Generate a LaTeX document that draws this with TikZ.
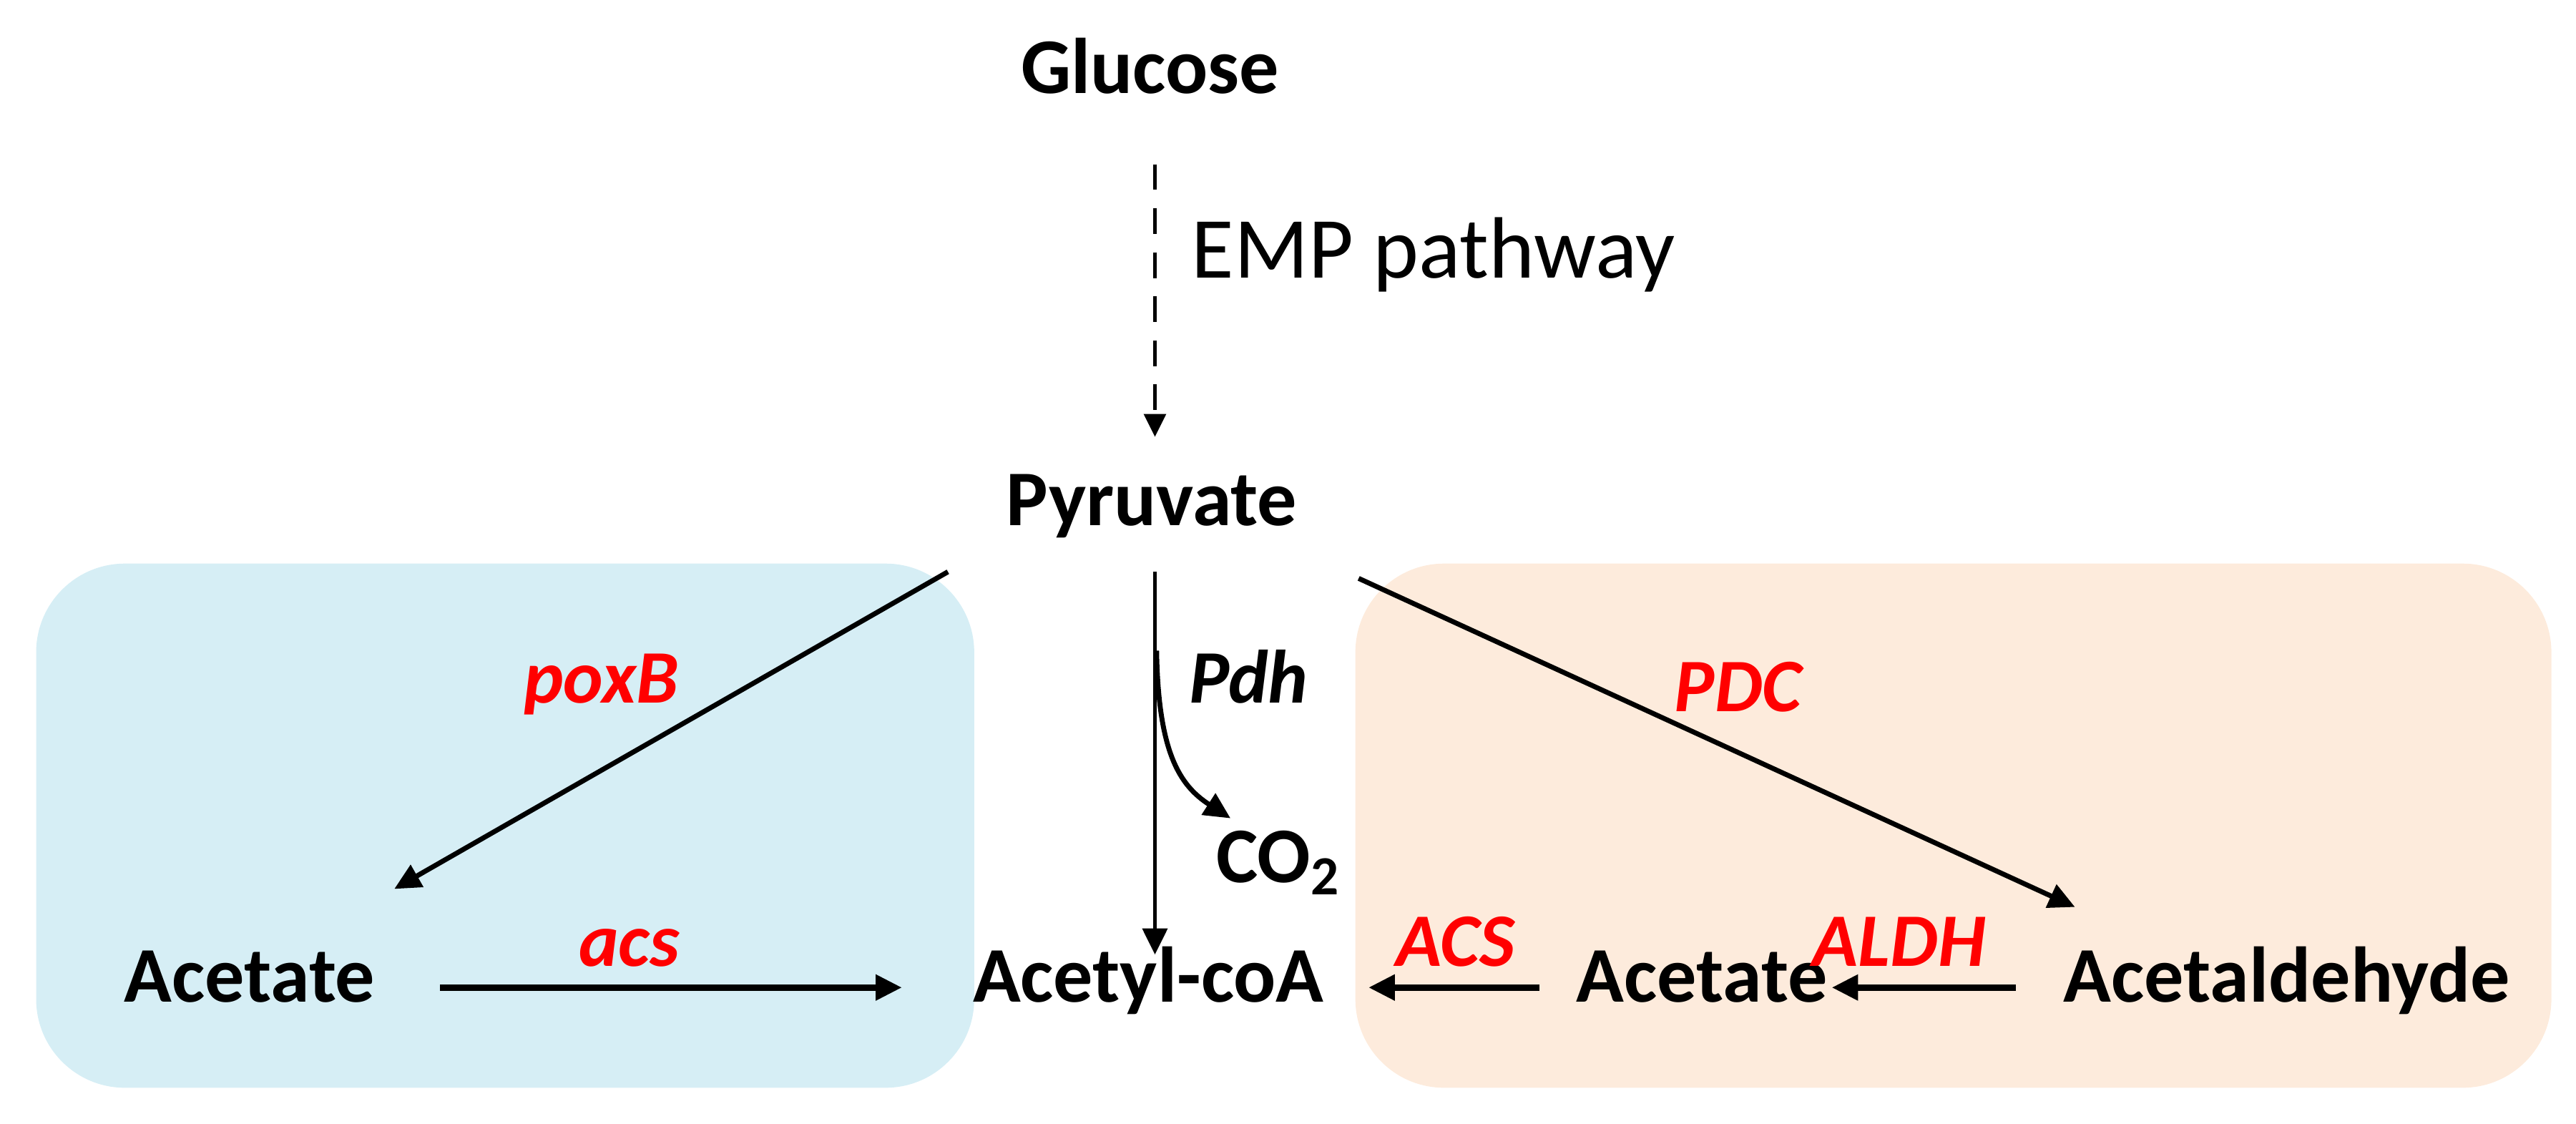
\documentclass[tikz,border=0pt]{standalone}
\usepackage{fontspec}
\setmainfont{Carlito}
\usetikzlibrary{arrows.meta}
\definecolor{bluebg}{HTML}{D6EEF5}
\definecolor{orangebg}{HTML}{FDEBDC}
\definecolor{genered}{HTML}{FF0000}
\begin{document}
\begin{tikzpicture}[x=0.5pt,y=-0.5pt,
  met/.style={font=\fontsize{24}{28}\selectfont\bfseries, anchor=base, inner sep=0pt},
  gene/.style={font=\fontsize{23}{28}\selectfont\bfseries\itshape, text=genered, anchor=base, inner sep=0pt},
  enz/.style={font=\fontsize{23}{28}\selectfont\bfseries\itshape, anchor=base, inner sep=0pt},
  rx/.style={draw=black, line width=1.5pt, -{Triangle[length=8pt,width=7.5pt]}},
  box/.style={rounded corners=27pt, draw=none}]
\useasboundingbox (0,0) rectangle (1568,684);
% background boxes
\fill[bluebg, box] (22,343) rectangle (593,662);
\fill[orangebg, box] (825,343) rectangle (1553,662);
% metabolites
\node[met] (glc) at (700,57) {Glucose};
\node[font=\fontsize{26.5}{32}\selectfont, anchor=base west, inner sep=0pt] (emp) at (725,169) {EMP pathway};
\node[met] (pyr) at (701,320) {Pyruvate};
\node[met] (acL) at (152,610) {Acetate};
\node[met] (acoa) at (699,610) {Acetyl-coA};
\node[met] (acR) at (1036,610) {Acetate};
\node[met] (ald) at (1392,610) {Acetaldehyde};
\node[met, anchor=base west] (co2) at (740,537) {CO\textsubscript{2}};
% labels
\node[gene] (poxB) at (366,428) {poxB};
\node[enz] (pdh) at (760,428) {Pdh};
\node[gene] (pdc) at (1058,433) {PDC};
\node[gene] (acs) at (383,588) {acs};
\node[gene] (ACS) at (886,588) {ACS};
\node[gene] (aldh) at (1156,588) {ALDH};
% connector end points
\coordinate (glcS) at (703,100);
\coordinate (pyrN) at (703,266);
\coordinate (pyrSW) at (577,348);
\coordinate (acLN) at (240,541);
\coordinate (pyrS) at (703,348);
\coordinate (acoaN) at (703,581);
\coordinate (brS) at (704,396);
\coordinate (co2N) at (749,498);
\coordinate (pyrSE) at (827,352);
\coordinate (aldN) at (1263,552);
\coordinate (acLE) at (268,601);
\coordinate (acoaW) at (549,601);
\coordinate (acRW) at (937,601);
\coordinate (acoaE) at (833,601);
\coordinate (aldW) at (1227,601);
\coordinate (acRE) at (1115,601);
% connectors
\draw[rx, line width=1.3pt, dash pattern=on 7.8pt off 5.6pt, -{Triangle[length=7pt,width=6.5pt]}] (glcS) -- (pyrN);
\draw[rx] (pyrSW) -- (acLN);
\draw[rx, line width=1.3pt] (pyrS) -- (acoaN);
\draw[rx, line width=1.5pt] (brS) .. controls (705,458) and (718,478) .. (co2N);
\draw[rx] (pyrSE) -- (aldN);
\draw[rx, line width=1.9pt] (acLE) -- (acoaW);
\draw[rx, line width=1.9pt] (acRW) -- (acoaE);
\draw[rx, line width=1.9pt] (aldW) -- (acRE);
\end{tikzpicture}
\end{document}
